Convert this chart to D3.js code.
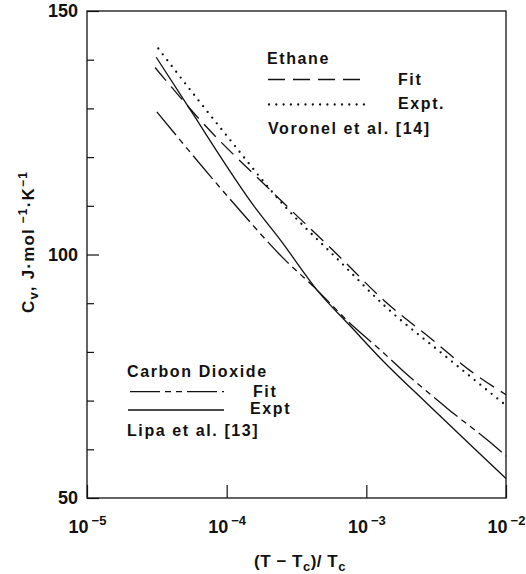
<!DOCTYPE html>
<html>
<head>
<meta charset="utf-8">
<script src="https://cdn.jsdelivr.net/npm/d3@7"></script>
<style>
  body { margin:0; background:#fff; }
  svg { display:block; }
  text { font-family:"Liberation Sans", Arial, Helvetica, sans-serif; font-weight:bold; fill:#111; }
</style>
</head>
<body>
<svg id="chart" width="526" height="574"></svg>
<script>
// axis ticks
const xTicks = [1e-5, 1e-4, 1e-3, 1e-2];
const xTickExp = ["\u22125", "\u22124", "\u22123", "\u22122"];
const yTicks = [50, 60, 70, 80, 90, 100, 110, 120, 130, 140, 150];
const yLabelled = [50, 100, 150];

// Ethane, Voronel et al. [14]
const ethaneExptX = [3.24e-5, 6.3e-5, 1e-4, 2.55e-4, 6.5e-4, 1.37e-3, 3.58e-3, 1e-2];
const ethaneExptY = [142.3, 131.6, 124.4, 110.2, 98.5, 89.3, 79.4, 69.0];
const ethaneFitX  = [3.07e-5, 6.8e-5, 1.94e-4, 6.3e-4, 1.37e-3, 2.88e-3, 5.57e-3, 1e-2];
const ethaneFitY  = [138.4, 126.9, 113.9, 99.8, 90.3, 82.8, 76.1, 71.2];

// Carbon dioxide, Lipa et al. [13]
const co2ExptX = [3.13e-5, 5.32e-5, 1.65e-4, 2.42e-4, 4.44e-4, 8.1e-4, 1.26e-3, 2.72e-3, 5.9e-3, 1e-2];
const co2ExptY = [140.5, 130.3, 109.1, 103.0, 92.7, 84.6, 78.7, 69.4, 60.2, 54.0];
const co2FitX  = [3.16e-5, 1.18e-4, 2.55e-4, 4.19e-4, 8.1e-4, 1.26e-3, 1.8e-3, 3.8e-3, 8.65e-3, 1e-2];
const co2FitY  = [129.3, 109.8, 99.2, 93.4, 85.2, 80.4, 76.3, 68.4, 60.2, 58.6];

const plotL=87, plotR=506, plotT=11, plotB=498;
const svg=d3.select('#chart');

const x=d3.scaleLog().domain([1e-5,1e-2]).range([plotL,plotR]);
const y=d3.scaleLinear().domain([50,150]).range([plotB,plotT]);

const styles={
  ethaneFit:  {dash:'17,8', width:1.3, cap:'butt'},
  ethaneExpt: {dash:'0,7.3', width:2.3, cap:'round'},
  co2Fit:     {dash:'30,5,6,5,6,5', width:1.3, cap:'butt'},
  co2Expt:    {dash:null, width:1.3, cap:'butt'}
};

const series=[
  {key:'ethaneFit',  xs:ethaneFitX,  ys:ethaneFitY},
  {key:'ethaneExpt', xs:ethaneExptX, ys:ethaneExptY},
  {key:'co2Fit',     xs:co2FitX,     ys:co2FitY},
  {key:'co2Expt',    xs:co2ExptX,    ys:co2ExptY}
];

const line=d3.line().x(d=>x(d[0])).y(d=>y(d[1])).curve(d3.curveMonotoneX);

svg.append('g').selectAll('path').data(series)
   .join('path')
   .attr('d', s => line(s.xs.map((v,i)=>[v,s.ys[i]])))
   .attr('fill','none')
   .attr('stroke','#111')
   .attr('stroke-width', s => styles[s.key].width)
   .attr('stroke-linecap', s => styles[s.key].cap)
   .attr('stroke-dasharray', s => styles[s.key].dash);

// frame
svg.append('rect')
   .attr('x',plotL).attr('y',plotT)
   .attr('width',plotR-plotL).attr('height',plotB-plotT)
   .attr('fill','none').attr('stroke','#111').attr('stroke-width',1.3);

// y axis, inward ticks
const gy=svg.append('g').attr('transform','translate('+plotL+',0)')
   .call(d3.axisLeft(y).tickValues(yTicks).tickSize(-7).tickPadding(9)
          .tickFormat(d => yLabelled.includes(d) ? d : ''));
gy.select('.domain').remove();
gy.selectAll('.tick line').attr('x2', d => yLabelled.includes(d) ? 12 : 7)
   .attr('stroke','#111').attr('stroke-width',1.2);
gy.selectAll('.tick text').attr('font-size',18).attr('font-family',null).attr('fill','#111');

// x axis, inward ticks at decades
const gx=svg.append('g').attr('transform','translate(0,'+plotB+')')
   .call(d3.axisBottom(x).tickValues(xTicks).tickSize(-13).tickFormat(''));
gx.select('.domain').remove();
gx.selectAll('.tick line').attr('stroke','#111').attr('stroke-width',1.2);
gx.selectAll('.tick text').each(function(d,i) {
    const t=d3.select(this).attr('y',35).attr('dy',null).attr('font-size',18).attr('font-family',null).attr('fill','#111');
    t.text(null);
    t.append('tspan').text('10');
    t.append('tspan').attr('dx',3).attr('dy',-8).attr('font-size',13).text(xTickExp[i]);
});

// axis titles
const xt=svg.append('text').attr('x',300).attr('y',567).attr('text-anchor','middle')
   .attr('font-size',17).attr('letter-spacing',0.5);
xt.append('tspan').text('(T \u2212 T');
xt.append('tspan').attr('font-size',13).attr('dy',4).text('c');
xt.append('tspan').attr('dy',-4).text(')/ T');
xt.append('tspan').attr('font-size',13).attr('dy',4).text('c');

const yt=svg.append('text').attr('transform','translate(34,242) rotate(-90)')
   .attr('text-anchor','middle').attr('font-size',17).attr('letter-spacing',1.2);
yt.append('tspan').text('C');
yt.append('tspan').attr('font-size',13).attr('dy',4).text('v');
yt.append('tspan').attr('dy',-4).text(', J\u00b7mol');
yt.append('tspan').attr('font-size',12).attr('dy',-7).text(' \u22121');
yt.append('tspan').attr('dy',7).text('\u00b7K');
yt.append('tspan').attr('font-size',12).attr('dy',-7).text('\u22121');

// legends
function legendText(tx,ty,s) {
   svg.append('text').attr('x',tx).attr('y',ty).attr('font-size',16)
      .attr('letter-spacing',1.6).text(s);
}
function legendLine(x1,x2,ly,key) {
   svg.append('line').attr('x1',x1).attr('x2',x2).attr('y1',ly).attr('y2',ly)
      .attr('stroke','#111')
      .attr('stroke-width',styles[key].width)
      .attr('stroke-linecap',styles[key].cap)
      .attr('stroke-dasharray',styles[key].dash);
}
legendText(267,64,'Ethane');
legendLine(268,367,79.5,'ethaneFit');
legendText(398,85,'Fit');
legendLine(269,367,104.5,'ethaneExpt');
legendText(398,109,'Expt.');
legendText(268,134,'Voronel et al. [14]');

legendText(127,377,'Carbon Dioxide');
legendLine(130,224,391.7,'co2Fit');
legendText(253,397,'Fit');
legendLine(128,224,410,'co2Expt');
legendText(250,414,'Expt');
legendText(127,436,'Lipa et al. [13]');
</script>
</body>
</html>
